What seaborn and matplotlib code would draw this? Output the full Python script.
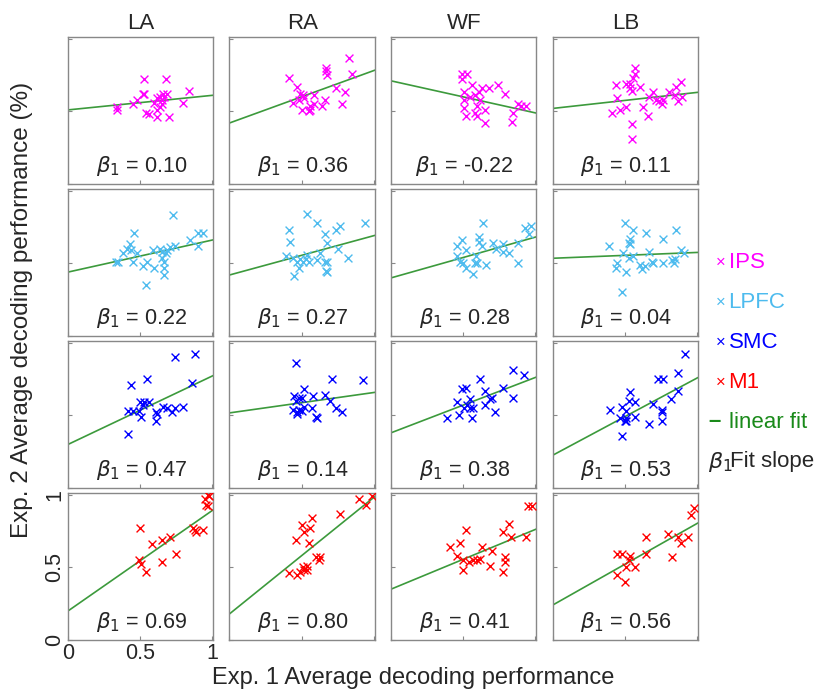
"""
Exp. 1 vs Exp. 2 average decoding performance, per region (rows) and
condition (columns), with linear fit and slope annotation.
"""
import matplotlib; matplotlib.use("Agg")
import matplotlib.pyplot as plt
import seaborn as sns
import pandas as pd

# ── data ──────────────────────────────────────────────────────────────────────
CONDITIONS = ["LA", "RA", "WF", "LB"]
REGIONS = ["IPS", "LPFC", "SMC", "M1"]
COLORS = {"IPS": "#ff00ff", "LPFC": "#4dbbee", "SMC": "#0000ff", "M1": "#ff0000"}
FIT_COLOR = "#3c9a3c"

# IPS
IPS_LA_X = [0.34, 0.34, 0.45, 0.48, 0.52, 0.53, 0.53, 0.54, 0.56, 0.60, 0.62, 0.64, 0.65,
            0.66, 0.68, 0.69, 0.62, 0.64, 0.65, 0.62, 0.70, 0.80, 0.84, 0.67]
IPS_LA_Y = [0.53, 0.51, 0.55, 0.58, 0.62, 0.62, 0.72, 0.49, 0.48, 0.56, 0.59, 0.60, 0.58,
            0.62, 0.72, 0.62, 0.51, 0.53, 0.55, 0.46, 0.46, 0.56, 0.64, 0.60]
IPS_RA_X = [0.41, 0.47, 0.49, 0.51, 0.52, 0.44, 0.48, 0.50, 0.56, 0.55, 0.59, 0.59,
            0.64, 0.66, 0.67, 0.67, 0.68, 0.74, 0.80, 0.78, 0.83, 0.85, 0.56]
IPS_RA_Y = [0.73, 0.67, 0.62, 0.61, 0.59, 0.56, 0.58, 0.51, 0.51, 0.50, 0.61, 0.55,
            0.54, 0.58, 0.80, 0.78, 0.75, 0.66, 0.63, 0.55, 0.87, 0.76, 0.54]
IPS_WF_X = [0.49, 0.53, 0.49, 0.51, 0.56, 0.51, 0.55, 0.58, 0.61, 0.63, 0.68, 0.74, 0.79,
            0.51, 0.52, 0.58, 0.60, 0.60, 0.65, 0.65, 0.88, 0.90, 0.94, 0.85, 0.84, 0.62]
IPS_WF_Y = [0.76, 0.76, 0.72, 0.63, 0.68, 0.58, 0.60, 0.61, 0.63, 0.66, 0.66, 0.68, 0.62,
            0.52, 0.47, 0.49, 0.47, 0.54, 0.51, 0.42, 0.55, 0.54, 0.54, 0.49, 0.43, 0.58]
IPS_LB_X = [0.41, 0.44, 0.45, 0.47, 0.51, 0.51, 0.54, 0.54, 0.55, 0.57, 0.57, 0.56, 0.61,
            0.55, 0.55, 0.63, 0.66, 0.67, 0.70, 0.72, 0.74, 0.76, 0.77, 0.81, 0.86, 0.89,
            0.87, 0.90, 0.85]
IPS_LB_Y = [0.49, 0.68, 0.59, 0.51, 0.53, 0.69, 0.66, 0.69, 0.64, 0.80, 0.76, 0.73, 0.67,
            0.41, 0.31, 0.53, 0.47, 0.60, 0.63, 0.58, 0.57, 0.55, 0.58, 0.63, 0.67, 0.70,
            0.57, 0.60, 0.61]

# LPFC
LPFC_LA_X = [0.33, 0.35, 0.38, 0.41, 0.43, 0.44, 0.46, 0.48, 0.45, 0.52, 0.55, 0.59, 0.60,
             0.64, 0.65, 0.67, 0.67, 0.68, 0.69, 0.71, 0.74, 0.67, 0.54, 0.73, 0.85, 0.90,
             0.94, 0.90, 0.65]
LPFC_LA_Y = [0.51, 0.51, 0.57, 0.60, 0.63, 0.59, 0.71, 0.57, 0.51, 0.48, 0.51, 0.59, 0.47,
             0.60, 0.58, 0.51, 0.47, 0.57, 0.59, 0.61, 0.62, 0.42, 0.35, 0.83, 0.66, 0.71,
             0.71, 0.62, 0.54]
LPFC_RA_X = [0.41, 0.42, 0.54, 0.61, 0.66, 0.68, 0.74, 0.77, 0.94, 0.39, 0.44, 0.47, 0.49,
             0.48, 0.45, 0.51, 0.53, 0.54, 0.61, 0.63, 0.66, 0.68, 0.67, 0.68, 0.75, 0.82,
             0.55]
LPFC_RA_Y = [0.73, 0.65, 0.84, 0.78, 0.70, 0.64, 0.73, 0.76, 0.78, 0.55, 0.54, 0.51, 0.53,
             0.47, 0.41, 0.51, 0.53, 0.56, 0.52, 0.57, 0.51, 0.51, 0.45, 0.44, 0.60, 0.54,
             0.51]
LPFC_WF_X = [0.64, 0.46, 0.49, 0.52, 0.46, 0.48, 0.50, 0.52, 0.57, 0.58, 0.61, 0.61, 0.63,
             0.59, 0.60, 0.66, 0.71, 0.73, 0.78, 0.78, 0.82, 0.88, 0.88, 0.93, 0.97, 0.96]
LPFC_WF_Y = [0.78, 0.62, 0.66, 0.59, 0.55, 0.51, 0.50, 0.47, 0.43, 0.50, 0.68, 0.65, 0.62,
             0.55, 0.50, 0.49, 0.64, 0.60, 0.63, 0.58, 0.57, 0.64, 0.50, 0.74, 0.76, 0.70]
LPFC_LB_X = [0.50, 0.56, 0.54, 0.53, 0.54, 0.39, 0.49, 0.53, 0.56, 0.45, 0.44, 0.51, 0.48,
             0.61, 0.62, 0.64, 0.65, 0.67, 0.69, 0.70, 0.77, 0.77, 0.83, 0.85, 0.84, 0.86,
             0.89, 0.91]
LPFC_LB_Y = [0.78, 0.73, 0.67, 0.64, 0.63, 0.62, 0.57, 0.54, 0.55, 0.50, 0.47, 0.44, 0.30,
             0.49, 0.46, 0.48, 0.71, 0.58, 0.51, 0.50, 0.67, 0.50, 0.52, 0.53, 0.50, 0.73,
             0.59, 0.57]

# SMC
SMC_LA_X = [0.44, 0.55, 0.74, 0.88, 0.86, 0.42, 0.45, 0.50, 0.52, 0.53, 0.56, 0.51, 0.49,
            0.61, 0.62, 0.61, 0.66, 0.69, 0.72, 0.74, 0.80, 0.42]
SMC_LA_Y = [0.71, 0.75, 0.90, 0.92, 0.72, 0.53, 0.53, 0.59, 0.57, 0.59, 0.59, 0.49, 0.53,
            0.52, 0.51, 0.46, 0.56, 0.55, 0.52, 0.55, 0.56, 0.37]
SMC_RA_X = [0.46, 0.71, 0.93, 0.52, 0.45, 0.48, 0.46, 0.50, 0.58, 0.66, 0.70, 0.44, 0.47,
            0.48, 0.50, 0.52, 0.57, 0.47, 0.60, 0.61, 0.74, 0.78]
SMC_RA_Y = [0.86, 0.75, 0.74, 0.68, 0.63, 0.62, 0.60, 0.62, 0.63, 0.64, 0.60, 0.54, 0.52,
            0.54, 0.53, 0.56, 0.55, 0.51, 0.49, 0.48, 0.55, 0.52]
SMC_WF_X = [0.39, 0.46, 0.47, 0.49, 0.52, 0.51, 0.53, 0.55, 0.55, 0.57, 0.56, 0.62, 0.65,
            0.65, 0.69, 0.70, 0.72, 0.78, 0.85, 0.92, 0.85]
SMC_WF_Y = [0.48, 0.59, 0.50, 0.68, 0.69, 0.55, 0.57, 0.61, 0.55, 0.55, 0.48, 0.75, 0.67,
            0.57, 0.61, 0.62, 0.52, 0.69, 0.81, 0.78, 0.62]
SMC_LB_X = [0.40, 0.48, 0.51, 0.53, 0.54, 0.57, 0.47, 0.51, 0.51, 0.50, 0.57, 0.48, 0.67,
            0.70, 0.73, 0.77, 0.76, 0.76, 0.76, 0.82, 0.87, 0.87, 0.92]
SMC_LB_Y = [0.54, 0.56, 0.53, 0.60, 0.66, 0.59, 0.48, 0.46, 0.48, 0.46, 0.49, 0.36, 0.44,
            0.58, 0.75, 0.75, 0.54, 0.52, 0.46, 0.61, 0.79, 0.67, 0.92]

# M1
M1_LA_X = [0.50, 0.49, 0.51, 0.54, 0.58, 0.65, 0.65, 0.71, 0.75, 0.87, 0.88, 0.89, 0.94,
           0.95, 0.96, 0.97, 0.97, 0.98]
M1_LA_Y = [0.77, 0.55, 0.52, 0.47, 0.66, 0.69, 0.54, 0.71, 0.59, 0.77, 0.76, 0.74, 0.76,
           0.97, 0.93, 1.00, 0.92, 0.99]
M1_RA_X = [0.41, 0.46, 0.50, 0.52, 0.57, 0.56, 0.55, 0.49, 0.51, 0.52, 0.54, 0.54, 0.60,
           0.62, 0.63, 0.77, 0.90, 0.95, 0.99, 0.47]
M1_RA_Y = [0.46, 0.69, 0.79, 0.74, 0.84, 0.77, 0.67, 0.47, 0.50, 0.48, 0.51, 0.48, 0.57,
           0.55, 0.57, 0.87, 0.97, 0.93, 0.99, 0.45]
M1_WF_X = [0.41, 0.48, 0.52, 0.46, 0.50, 0.50, 0.54, 0.57, 0.60, 0.62, 0.63, 0.70, 0.69,
           0.78, 0.82, 0.83, 0.79, 0.79, 0.78, 0.94, 0.95, 0.98]
M1_WF_Y = [0.64, 0.67, 0.76, 0.58, 0.55, 0.48, 0.54, 0.55, 0.55, 0.56, 0.64, 0.61, 0.51,
           0.74, 0.80, 0.71, 0.57, 0.54, 0.47, 0.71, 0.92, 0.92]
M1_LB_X = [0.45, 0.48, 0.54, 0.53, 0.51, 0.57, 0.45, 0.50, 0.65, 0.65, 0.80, 0.83, 0.87,
           0.89, 0.94, 0.96, 0.98]
M1_LB_Y = [0.59, 0.59, 0.58, 0.55, 0.50, 0.50, 0.45, 0.40, 0.71, 0.59, 0.73, 0.57, 0.71,
           0.67, 0.71, 0.86, 0.91]

INTERCEPTS = [[0.51, 0.42, 0.71, 0.52],
              [0.44, 0.42, 0.40, 0.535],
              [0.30, 0.517, 0.38, 0.225],
              [0.20, 0.18, 0.35, 0.24]]
SLOPES = [[0.10, 0.36, -0.22, 0.11],
          [0.22, 0.27, 0.28, 0.04],
          [0.47, 0.14, 0.38, 0.53],
          [0.69, 0.80, 0.41, 0.56]]
SLOPE_LABELS = [["0.10", "0.36", "-0.22", "0.11"],
                ["0.22", "0.27", "0.28", "0.04"],
                ["0.47", "0.14", "0.38", "0.53"],
                ["0.69", "0.80", "0.41", "0.56"]]

POINTS = {
    "IPS":  [(IPS_LA_X, IPS_LA_Y), (IPS_RA_X, IPS_RA_Y), (IPS_WF_X, IPS_WF_Y), (IPS_LB_X, IPS_LB_Y)],
    "LPFC": [(LPFC_LA_X, LPFC_LA_Y), (LPFC_RA_X, LPFC_RA_Y), (LPFC_WF_X, LPFC_WF_Y), (LPFC_LB_X, LPFC_LB_Y)],
    "SMC":  [(SMC_LA_X, SMC_LA_Y), (SMC_RA_X, SMC_RA_Y), (SMC_WF_X, SMC_WF_Y), (SMC_LB_X, SMC_LB_Y)],
    "M1":   [(M1_LA_X, M1_LA_Y), (M1_RA_X, M1_RA_Y), (M1_WF_X, M1_WF_Y), (M1_LB_X, M1_LB_Y)],
}

# ── style ─────────────────────────────────────────────────────────────────────
sns.set_style("white")
plt.rcParams["font.family"] = ["Liberation Sans", "DejaVu Sans"]
plt.rcParams["mathtext.fontset"] = "dejavusans"

fig, axes = plt.subplots(4, 4, figsize=(8.14, 6.89), dpi=100)
fig.subplots_adjust(left=0.0835, right=0.8575, top=0.946, bottom=0.071,
                    wspace=0.11, hspace=0.035)

for i, reg in enumerate(REGIONS):
    for j, cond in enumerate(CONDITIONS):
        ax = axes[i, j]
        xs, ys = POINTS[reg][j]
        df = pd.DataFrame({"x": xs, "y": ys})
        sns.scatterplot(data=df, x="x", y="y", marker="x", color=COLORS[reg],
                        s=32, linewidth=1.0, ax=ax, zorder=3)
        fit = pd.DataFrame({"x": [0.0, 1.01]})
        fit["y"] = INTERCEPTS[i][j] + SLOPES[i][j] * fit["x"]
        sns.lineplot(data=fit, x="x", y="y", color=FIT_COLOR, lw=1.2, ax=ax, zorder=2)
        ax.text(0.505, 0.125, rf"$\beta_1$ = {SLOPE_LABELS[i][j]}",
                transform=ax.transAxes, ha="center", va="center", fontsize=15.5)
        ax.set(xlim=(0, 1.01), ylim=(0, 1.01), xlabel="", ylabel="")
        ax.set_xticks([0, 0.5, 1]); ax.set_yticks([0, 0.5, 1])
        ax.tick_params(direction="in", length=3, width=0.8, color="#888888",
                       bottom=True, left=True, labelsize=15.5, pad=2)
        for sp in ax.spines.values():
            sp.set_color("#888888"); sp.set_linewidth(1.0)
        if i == 3 and j == 0:
            ax.set_xticklabels(["0", "0.5", "1"])
            ax.set_yticklabels(["0", "0.5", "1"], rotation=90, va="center")
        else:
            ax.set_xticklabels([]); ax.set_yticklabels([])
        if i == 0:
            ax.set_title(cond, fontsize=16, pad=6)

fig.text(0.027, 0.55, "Exp. 2 Average decoding performance (%)", rotation=90,
         ha="center", va="center", fontsize=17.5)
fig.text(0.507, 0.016, "Exp. 1 Average decoding performance",
         ha="center", va="center", fontsize=17)

# right-hand key
key_x = 0.870
for k, reg in enumerate(REGIONS):
    yk = 1 - (262 + 40 * k) / 689
    fig.text(key_x + 0.009, yk, "×", color=COLORS[reg], ha="left", va="center", fontsize=12)
    fig.text(key_x + 0.025, yk, reg, color=COLORS[reg], ha="left", va="center", fontsize=16)
fig.text(key_x, 1 - 422 / 689, "–", color="#1a8a1a", ha="left", va="center", fontsize=16,
         fontweight="bold")
fig.text(key_x + 0.025, 1 - 422 / 689, "linear fit", color="#1a8a1a", ha="left",
         va="center", fontsize=16)
fig.text(key_x, 1 - 462 / 689, r"$\beta_1$", ha="left", va="center", fontsize=16)
fig.text(key_x + 0.027, 1 - 462 / 689, "Fit slope", ha="left", va="center", fontsize=16)

fig.savefig("out.png", dpi=100)
